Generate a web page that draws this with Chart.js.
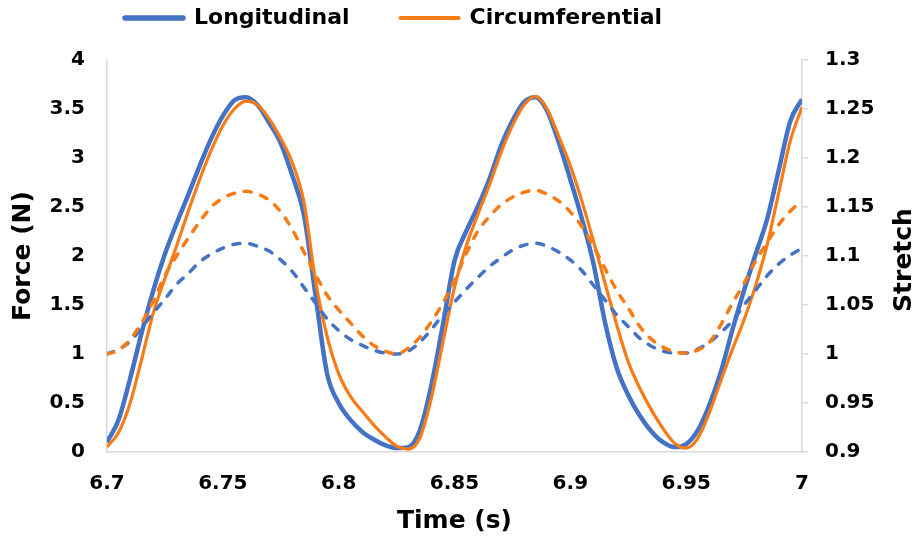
<!DOCTYPE html>
<html>
<head>
<meta charset="utf-8">
<script src="https://cdn.jsdelivr.net/npm/chart.js@4.4.1/dist/chart.umd.min.js"></script>
<style>
  html, body { margin: 0; padding: 0; background: #ffffff; }
  #wrap { width: 923px; height: 541px; }
</style>
</head>
<body>
<div id="wrap"><canvas id="c" width="923" height="541"></canvas></div>
<script>
// ---- data ----
const times = [6.700,6.705,6.710,6.715,6.720,6.725,6.730,6.735,6.740,6.745,6.750,
  6.755,6.760,6.765,6.770,6.775,6.780,6.785,6.790,6.795,6.800,
  6.805,6.810,6.815,6.820,6.825,6.830,6.835,6.840,6.845,6.850,
  6.855,6.860,6.865,6.870,6.875,6.880,6.885,6.890,6.895,6.900,
  6.905,6.910,6.915,6.920,6.925,6.930,6.935,6.940,6.945,6.950,
  6.955,6.960,6.965,6.970,6.975,6.980,6.985,6.990,6.995,7.000];

const longForce = [0.10,0.33,0.75,1.22,1.65,2.02,2.33,2.62,2.92,3.20,3.43,
  3.59,3.62,3.54,3.36,3.15,2.82,2.42,1.60,0.80,0.50,
  0.33,0.21,0.13,0.07,0.04,0.05,0.22,0.68,1.30,1.95,
  2.25,2.50,2.78,3.12,3.38,3.57,3.62,3.48,3.16,2.78,
  2.38,1.92,1.32,0.86,0.58,0.37,0.21,0.10,0.05,0.08,
  0.22,0.48,0.82,1.25,1.65,2.02,2.38,2.88,3.38,3.60];

const circForce = [0.05,0.20,0.50,0.95,1.42,1.77,2.10,2.45,2.78,3.08,3.33,
  3.50,3.58,3.54,3.40,3.20,2.95,2.55,1.75,1.18,0.80,
  0.57,0.42,0.28,0.16,0.06,0.03,0.14,0.55,1.12,1.68,
  2.10,2.42,2.72,3.05,3.33,3.54,3.63,3.50,3.22,2.92,
  2.56,2.15,1.72,1.30,0.92,0.65,0.43,0.24,0.09,0.04,
  0.14,0.40,0.73,1.05,1.35,1.70,2.12,2.65,3.18,3.52];

const longStretch = [1.000,1.005,1.013,1.027,1.042,1.056,1.071,1.082,1.094,1.102,1.108,
  1.112,1.113,1.110,1.105,1.096,1.084,1.068,1.052,1.036,1.024,
  1.015,1.009,1.004,1.001,1.000,1.003,1.012,1.025,1.040,1.053,
  1.066,1.078,1.089,1.098,1.106,1.111,1.113,1.110,1.104,1.096,
  1.085,1.070,1.055,1.040,1.028,1.016,1.008,1.003,1.001,1.001,
  1.005,1.012,1.022,1.034,1.050,1.065,1.080,1.092,1.101,1.108];

const circStretch = [1.000,1.004,1.015,1.032,1.054,1.080,1.100,1.118,1.135,1.150,1.159,
  1.164,1.166,1.163,1.157,1.145,1.127,1.104,1.081,1.060,1.045,
  1.032,1.019,1.009,1.003,1.000,1.006,1.017,1.033,1.052,1.075,
  1.102,1.125,1.140,1.152,1.160,1.165,1.167,1.163,1.156,1.145,
  1.130,1.110,1.087,1.065,1.047,1.028,1.015,1.007,1.002,1.001,
  1.004,1.012,1.030,1.052,1.072,1.095,1.114,1.132,1.146,1.156];

const seriesNames = ['Longitudinal', 'Circumferential'];
const xTitle = 'Time (s)';
const yTitle = 'Force (N)';
const y2Title = 'Stretch';
const xRange = [6.7, 7.0, 0.05];
const yRange = [0, 4, 0.5];
const y2Range = [0.9, 1.3, 0.05];

// ---- styling ----
const BLUE = '#4472C4';
const ORANGE = '#F97B16';
const AXIS = '#D9D9D9';
const FONT = '"DejaVu Sans", "Liberation Sans", Arial, sans-serif';

const pts = (ys) => times.map((t, i) => ({ x: t, y: ys[i] }));
const fmt = (v) => String(Number(Number(v).toFixed(3)));

const legendPlacer = {
  id: 'legendPlacer',
  beforeInit(chart) {
    const fit = chart.legend.fit;
    chart.legend.fit = function () { fit.call(this); this.height = 60; };
  },
  afterLayout(chart) {
    const lg = chart.legend;
    const p = lg.options.labels.padding;
    lg.left = 125 - p;
    lg.top = 7 - p;
  }
};

const rightTitle = {
  id: 'rightTitle',
  afterDraw(chart) {
    const ctx = chart.ctx;
    const a = chart.chartArea;
    const s = chart.scales.y2;
    ctx.save();
    ctx.translate(s.right - 19, (a.top + a.bottom) / 2 + 4);
    ctx.rotate(-Math.PI / 2);
    ctx.font = 'bold 25px ' + FONT;
    ctx.fillStyle = '#000';
    ctx.textAlign = 'center';
    ctx.textBaseline = 'middle';
    ctx.fillText(y2Title, 0, 0);
    ctx.restore();
  }
};

new Chart(document.getElementById('c'), {
  type: 'line',
  data: {
    datasets: [
      { label: seriesNames[0], data: pts(longForce), yAxisID: 'y', borderColor: BLUE,
        borderWidth: 4.5, order: 3 },
      { label: seriesNames[1], data: pts(circForce), yAxisID: 'y', borderColor: ORANGE,
        borderWidth: 3.2, order: 2 },
      { label: seriesNames[0] + ' stretch', data: pts(longStretch), yAxisID: 'y2', borderColor: BLUE,
        borderWidth: 3.5, borderDash: [7, 10], borderCapStyle: 'round', order: 1 },
      { label: seriesNames[1] + ' stretch', data: pts(circStretch), yAxisID: 'y2', borderColor: ORANGE,
        borderWidth: 3.5, borderDash: [7, 10], borderCapStyle: 'round', order: 0 }
    ]
  },
  options: {
    responsive: false,
    animation: false,
    devicePixelRatio: 1,
    layout: { padding: 0 },
    elements: {
      point: { radius: 0, hoverRadius: 0 },
      line: { cubicInterpolationMode: 'monotone', fill: false, borderJoinStyle: 'round' }
    },
    plugins: {
      tooltip: { enabled: false },
      legend: {
        display: true,
        position: 'top',
        align: 'start',
        labels: {
          usePointStyle: true,
          pointStyleWidth: 58,
          padding: 51,
          color: '#000',
          font: { family: FONT, size: 22, weight: 'bold' },
          generateLabels() {
            return [
              { text: seriesNames[0], pointStyle: 'line', strokeStyle: BLUE, fillStyle: BLUE,
                lineWidth: 5.5, lineCap: 'round', hidden: false, datasetIndex: 0, fontColor: '#000' },
              { text: seriesNames[1], pointStyle: 'line', strokeStyle: ORANGE, fillStyle: ORANGE,
                lineWidth: 4, lineCap: 'round', hidden: false, datasetIndex: 1, fontColor: '#000' }
            ];
          }
        }
      }
    },
    scales: {
      x: {
        type: 'linear',
        position: 'bottom',
        min: xRange[0], max: xRange[1],
        afterFit(s) { s.height = 89; },
        ticks: { stepSize: xRange[2], padding: 20, color: '#000', maxRotation: 0, autoSkip: false,
          font: { family: FONT, size: 20, weight: 'bold' }, callback: fmt },
        grid: { display: false, drawTicks: false },
        border: { display: true, color: AXIS, width: 1.5 },
        title: { display: true, text: xTitle, color: '#000', padding: { top: 0, bottom: 5 },
          font: { family: FONT, size: 25, weight: 'bold' } }
      },
      y: {
        type: 'linear',
        position: 'left',
        min: yRange[0], max: yRange[1],
        afterFit(s) { s.width = 107; },
        ticks: { stepSize: yRange[2], padding: 22, color: '#000',
          font: { family: FONT, size: 20, weight: 'bold' }, callback: fmt },
        grid: { display: false, drawTicks: false },
        border: { display: true, color: AXIS, width: 1.5 },
        title: { display: true, text: yTitle, color: '#000', padding: { top: 8, bottom: 0 },
          font: { family: FONT, size: 25, weight: 'bold' } }
      },
      y2: {
        type: 'linear',
        position: 'right',
        min: y2Range[0], max: y2Range[1],
        afterFit(s) { s.width = 121; },
        ticks: { stepSize: y2Range[2], padding: 17, color: '#000',
          font: { family: FONT, size: 20, weight: 'bold' }, callback: fmt },
        grid: { display: true, drawOnChartArea: false, drawTicks: true, tickLength: 6, color: AXIS, lineWidth: 1.5 },
        border: { display: true, color: AXIS, width: 1.5 }
      }
    }
  },
  plugins: [legendPlacer, rightTitle]
});
</script>
</body>
</html>
